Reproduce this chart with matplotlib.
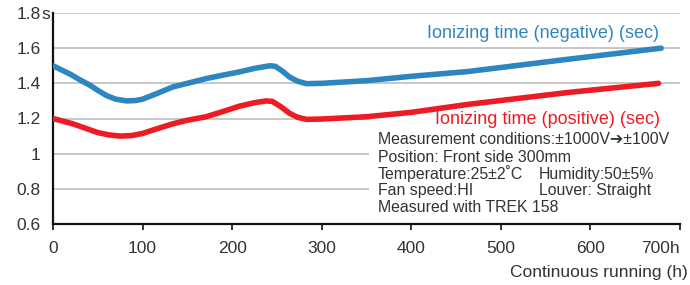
import matplotlib.pyplot as plt
from matplotlib.patches import Rectangle

plt.rcParams["font.family"] = ["Liberation Sans", "DejaVu Sans"]

# hours of continuous running vs ionizing time (sec)
neg_hours = [0, 10, 20, 30, 41, 50, 60, 70, 82, 92, 100, 115, 134, 150, 171, 190, 208, 225,
             242, 248, 256, 264, 273, 283, 300, 350, 400, 463, 575, 679]
neg_time = [1.50, 1.475, 1.45, 1.42, 1.39, 1.36, 1.33, 1.31, 1.30, 1.302, 1.31, 1.34, 1.38,
            1.40, 1.427, 1.447, 1.465, 1.485, 1.50, 1.497, 1.47, 1.436, 1.412, 1.398, 1.40,
            1.415, 1.44, 1.467, 1.537, 1.60]

pos_hours = [0, 11, 22, 36, 50, 62, 75, 88, 100, 115, 134, 150, 171, 190, 208, 225, 238, 245,
             255, 264, 273, 283, 300, 350, 400, 463, 575, 676]
pos_time = [1.20, 1.185, 1.17, 1.145, 1.12, 1.107, 1.10, 1.103, 1.115, 1.14, 1.17, 1.19, 1.21,
            1.24, 1.27, 1.29, 1.30, 1.297, 1.265, 1.23, 1.207, 1.195, 1.197, 1.21, 1.235,
            1.28, 1.348, 1.40]

x_ticks = [0, 100, 200, 300, 400, 500, 600, 700]
x_labels = ["0", "100", "200", "300", "400", "500", "600", "700h"]
y_ticks = [0.6, 0.8, 1.0, 1.2, 1.4, 1.6, 1.8]
y_labels = ["0.6", "0.8", "1", "1.2", "1.4", "1.6", "1.8"]

conditions = [
    ("Measurement conditions:\u00b11000V\u2794\u00b1100V", None),
    ("Position: Front side 300mm", None),
    ("Temperature:25\u00b12\u02daC", "Humidity:50\u00b15%"),
    ("Fan speed:HI", "Louver: Straight"),
    ("Measured with TREK 158", None),
]

BLUE = "#2E86C1"
RED = "#ED1C24"
TXT = "#333333"

W, H = 690, 285
fig = plt.figure(figsize=(W / 100, H / 100), dpi=100)
ax = fig.add_axes([53 / W, 61 / H, 627 / W, 211 / H])

ax.set_xlim(0, 700)
ax.set_ylim(0.6, 1.8)

ax.set_axisbelow(True)
ax.yaxis.grid(True, color="#BDBDBD", linewidth=1.2)
ax.xaxis.grid(False)

# white panel behind the conditions text hides the grid there
ax.add_patch(Rectangle((353, 0.6), 347, 0.648, facecolor="white", edgecolor="none", zorder=1))

ax.plot(neg_hours, neg_time, color=BLUE, linewidth=4, solid_capstyle="round",
        solid_joinstyle="round", zorder=3)
ax.plot(pos_hours, pos_time, color=RED, linewidth=4, solid_capstyle="round",
        solid_joinstyle="round", zorder=3)

for s in ["top", "right"]:
    ax.spines[s].set_visible(False)
for s in ["left", "bottom"]:
    ax.spines[s].set_color("#111111")
    ax.spines[s].set_linewidth(1.6)

ax.set_xticks(x_ticks)
ax.set_xticklabels(x_labels)
ax.set_yticks(y_ticks)
ax.set_yticklabels(y_labels)
ax.tick_params(axis="x", direction="out", length=4.5, width=1.2, color="#111111",
               pad=8, labelsize=12.5, labelcolor=TXT)
ax.tick_params(axis="y", length=0, pad=9, labelsize=12.5, labelcolor=TXT)
ax.get_xticklabels()[-1].set_horizontalalignment("right")

# unit after the top y label
ax.annotate("s", xy=(0, 1.8), xycoords=ax.get_yaxis_transform(),
            xytext=(-8.6, 0), textcoords="offset points",
            ha="left", va="center_baseline", fontsize=12.5, color=TXT)

fig.text(688 / W, 1 - 272 / H, "Continuous running (h)", ha="right", va="center",
         fontsize=12.5, color=TXT)

ax.text(417.5, 1.686, "Ionizing time (negative) (sec)", color=BLUE, fontsize=13,
        ha="left", va="center")
ax.text(426.5, 1.197, "Ionizing time (positive) (sec)", color=RED, fontsize=13,
        ha="left", va="center", zorder=4)

line_y = [140, 157, 174, 191, 208]
for (left, right), y in zip(conditions, line_y):
    fig.text(378 / W, 1 - y / H, left, ha="left", va="center", fontsize=11.4, color=TXT)
    if right:
        fig.text(539 / W, 1 - y / H, right, ha="left", va="center", fontsize=11.4, color=TXT)

fig.savefig("out.png", dpi=100, facecolor="white")
